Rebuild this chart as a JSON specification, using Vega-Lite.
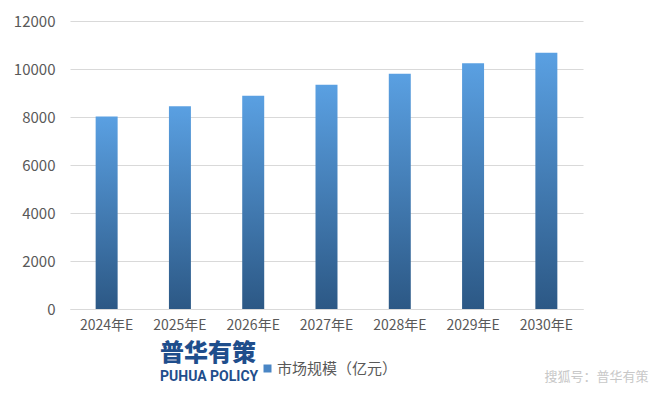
{
  "$schema": "https://vega.github.io/schema/vega-lite/v6.json",
  "width": 513,
  "height": 288,
  "autosize": {"type": "none"},
  "padding": {"left": 70, "top": 21, "right": 77, "bottom": 88},
  "background": "white",
  "config": {
    "font": "Noto Sans CJK SC",
    "view": {"stroke": null},
    "axis": {"labelFont": "Noto Sans CJK SC", "labelColor": "#595959", "labelFontSize": 14}
  },
  "title": {
    "text": "普华有策",
    "subtitle": "PUHUA POLICY",
    "orient": "bottom",
    "anchor": "start",
    "frame": "group",
    "dx": 90,
    "dy": -41,
    "offset": 0,
    "font": "Noto Sans CJK SC",
    "fontSize": 24,
    "fontWeight": 900,
    "color": "#1F4E8C",
    "subtitleFont": "Roboto",
    "subtitleFontSize": 14,
    "subtitleFontWeight": "bold",
    "subtitleColor": "#1F4E8C",
    "subtitlePadding": 4
  },
  "data": {
    "values": [
      {"year": "2024年E", "value": 8020, "series": "市场规模（亿元）"},
      {"year": "2025年E", "value": 8450, "series": "市场规模（亿元）"},
      {"year": "2026年E", "value": 8890, "series": "市场规模（亿元）"},
      {"year": "2027年E", "value": 9340, "series": "市场规模（亿元）"},
      {"year": "2028年E", "value": 9800, "series": "市场规模（亿元）"},
      {"year": "2029年E", "value": 10240, "series": "市场规模（亿元）"},
      {"year": "2030年E", "value": 10680, "series": "市场规模（亿元）"}
    ]
  },
  "encoding": {
    "x": {
      "field": "year",
      "type": "nominal",
      "sort": null,
      "scale": {"paddingInner": 0.7, "paddingOuter": 0.35},
      "axis": {
        "title": "搜狐号：普华有策",
        "titleFont": "Noto Sans CJK SC",
        "titleFontSize": 13,
        "titleFontWeight": "normal",
        "titleColor": "#C8C8C8",
        "titleAnchor": "end",
        "titleAlign": "right",
        "titleBaseline": "middle",
        "titleX": 578,
        "titleY": 67,
        "labelAngle": 0,
        "labelPadding": 9,
        "ticks": false,
        "domain": true,
        "domainColor": "#D9D9D9",
        "domainWidth": 1
      }
    },
    "y": {
      "field": "value",
      "type": "quantitative",
      "scale": {"domain": [0, 12000]},
      "axis": {
        "title": null,
        "values": [0, 2000, 4000, 6000, 8000, 10000, 12000],
        "format": "d",
        "domain": false,
        "ticks": false,
        "labelFontSize": 15,
        "labelPadding": 15,
        "gridColor": "#D9D9D9",
        "gridWidth": 1
      }
    }
  },
  "layer": [
    {
      "mark": {"type": "bar", "opacity": 0},
      "encoding": {
        "color": {
          "field": "series",
          "type": "nominal",
          "scale": {"range": ["#4A86C5"]},
          "legend": {
            "title": null,
            "orient": "none",
            "legendX": 190,
            "legendY": 340,
            "symbolType": "square",
            "symbolSize": 64,
            "symbolOpacity": 1,
            "symbolStrokeWidth": 0,
            "labelFont": "Noto Sans CJK SC",
            "labelFontSize": 15,
            "labelColor": "#595959",
            "labelOffset": 2
          }
        }
      }
    },
    {
      "mark": {
        "type": "bar",
        "color": {
          "gradient": "linear",
          "x1": 0, "y1": 0, "x2": 0, "y2": 1,
          "stops": [
            {"offset": 0, "color": "#5AA0E2"},
            {"offset": 1, "color": "#2C5885"}
          ]
        }
      }
    }
  ]
}
